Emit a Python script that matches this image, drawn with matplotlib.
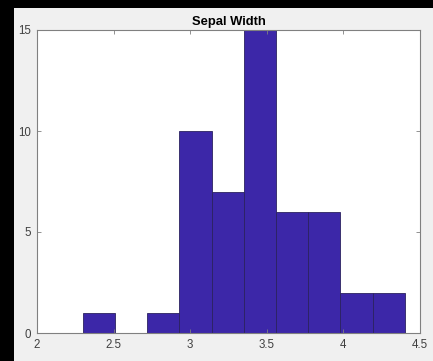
import matplotlib
matplotlib.use("Agg")
import matplotlib.pyplot as plt
from matplotlib.patches import Rectangle

# Histogram of sepal width: bin edges and counts
bin_edges = [2.30, 2.51, 2.72, 2.93, 3.14, 3.35, 3.56, 3.77, 3.98, 4.19, 4.40]
counts = [1, 0, 1, 10, 7, 15, 6, 6, 2, 2]
x_ticks = [2, 2.5, 3, 3.5, 4, 4.5]
x_tick_labels = ["2", "2.5", "3", "3.5", "4", "4.5"]
y_ticks = [0, 5, 10, 15]
title = "Sepal Width"

plt.rcParams["font.family"] = ["Liberation Sans", "DejaVu Sans"]

W, H = 433, 361
fig = plt.figure(figsize=(W / 100, H / 100), dpi=100, facecolor="#f0f0f0")
# dark window frame along the left and top edges
fig.patches.append(Rectangle((0, 0), 14 / W, 1, transform=fig.transFigure,
                             facecolor="black", edgecolor="none", zorder=-10))
fig.patches.append(Rectangle((0, 1 - 8 / H), 1, 8 / H, transform=fig.transFigure,
                             facecolor="black", edgecolor="none", zorder=-10))

left, right, top, bottom = 37, 420, 30, 333
ax = fig.add_axes([left / W, 1 - bottom / H, (right - left) / W, (bottom - top) / H])
ax.set_facecolor("white")

widths = [bin_edges[i + 1] - bin_edges[i] for i in range(len(counts))]
ax.bar(bin_edges[:-1], counts, width=widths, align="edge",
       color="#3c27a8", edgecolor="#2b2260", linewidth=0.6)

ax.set_xlim(2, 4.5)
ax.set_ylim(0, 15)
ax.set_xticks(x_ticks)
ax.set_xticklabels(x_tick_labels)
ax.set_yticks(y_ticks)

for s in ax.spines.values():
    s.set_color("#808080")
    s.set_linewidth(0.8)
ax.tick_params(direction="in", length=3, width=0.6, color="#808080",
               labelsize=8.3, labelcolor="#404040", top=True, right=True)
ax.tick_params(axis="x", pad=4.5)
ax.tick_params(axis="y", pad=4)

ax.set_title(title, fontsize=9.4, fontweight="bold", color="black", pad=3.5)

fig.savefig("out.png", dpi=100, facecolor=fig.get_facecolor())
